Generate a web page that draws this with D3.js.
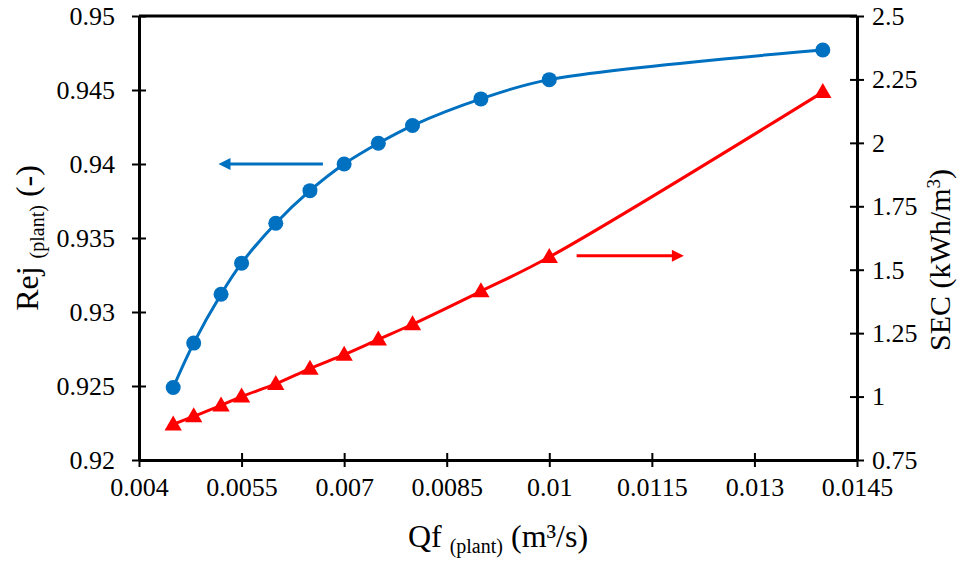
<!DOCTYPE html>
<html>
<head>
<meta charset="utf-8">
<script src="https://cdn.jsdelivr.net/npm/d3@7"></script>
<style>
  html, body { margin: 0; padding: 0; background: #fff; }
  svg { display: block; }
</style>
</head>
<body>
<svg id="chart" width="972" height="561"></svg>
<script>
// ---------- data ----------
const qf  = [0.0045, 0.0048, 0.0052, 0.0055, 0.0060, 0.0065, 0.0070, 0.0075, 0.0080, 0.0090, 0.0100, 0.0140];
const rej = [0.9249, 0.9279, 0.9312, 0.9333, 0.9360, 0.9382, 0.9400, 0.9414, 0.9426, 0.9444, 0.9457, 0.9477];
const sec = [0.89, 0.922, 0.965, 1.00, 1.05, 1.11, 1.165, 1.225, 1.285, 1.415, 1.55, 2.20];

const xTicks  = [0.004, 0.0055, 0.007, 0.0085, 0.01, 0.0115, 0.013, 0.0145];
const xLabels = ["0.004", "0.0055", "0.007", "0.0085", "0.01", "0.0115", "0.013", "0.0145"];
const yLTicks  = [0.92, 0.925, 0.93, 0.935, 0.94, 0.945, 0.95];
const yLLabels = ["0.92", "0.925", "0.93", "0.935", "0.94", "0.945", "0.95"];
const yRTicks  = [0.75, 1, 1.25, 1.5, 1.75, 2, 2.25, 2.5];
const yRLabels = ["0.75", "1", "1.25", "1.5", "1.75", "2", "2.25", "2.5"];

// annotation arrows (data units)
const arrowRej = { x0: 0.00669, x1: 0.00513, y: 0.94 };   // on left axis
const arrowSec = { x0: 0.0104,  x1: 0.0120,  y: 1.555 };  // on right axis

// ---------- layout ----------
const svg = d3.select("#chart");
const L = 139, R = 857, T = 16, B = 460;
const FONT = "Liberation Serif";
const BLUE = "#0070C0", RED = "#FF0000";

const x  = d3.scaleLinear().domain([0.004, 0.0145]).range([L, R]);
const yL = d3.scaleLinear().domain([0.92, 0.95]).range([B, T]);
const yR = d3.scaleLinear().domain([0.75, 2.5]).range([B, T]);

// arrow marker defs
const defs = svg.append("defs");
[["arrBlue", BLUE], ["arrRed", RED]].forEach(([id, c]) => {
  defs.append("marker").attr("id", id)
    .attr("viewBox", "0 0 10 10").attr("refX", 1).attr("refY", 5)
    .attr("markerUnits", "userSpaceOnUse")
    .attr("markerWidth", 15).attr("markerHeight", 12)
    .attr("orient", "auto")
    .append("path").attr("d", "M0,0 L10,5 L0,10 Z").attr("fill", c);
});

// top border
svg.append("line").attr("x1", L).attr("x2", R).attr("y1", T).attr("y2", T)
  .attr("stroke", "#000").attr("stroke-width", 3);

// axes
function styleAxis(g, orient) {
  g.attr("font-family", FONT).attr("font-size", 26);
  g.select(".domain").attr("stroke", "#000").attr("stroke-width", 3);
  g.selectAll(".tick line").attr("stroke", "#000").attr("stroke-width", 2);
  g.selectAll(".tick text").attr("font-family", FONT).attr("font-size", 26).attr("fill", "#000");
  if (orient === "left" || orient === "right") {
    g.selectAll(".tick line").attr("x1", -7).attr("x2", 7);
  } else {
    g.selectAll(".tick line").attr("y1", -7).attr("y2", 7);
  }
}

const gx = svg.append("g").attr("transform", `translate(0,${B})`)
  .call(d3.axisBottom(x).tickValues(xTicks).tickFormat((d, i) => xLabels[i]).tickSizeOuter(0).tickPadding(12));
styleAxis(gx, "bottom");
gx.selectAll(".tick text").attr("dy", "0.71em");

const gyl = svg.append("g").attr("transform", `translate(${L},0)`)
  .call(d3.axisLeft(yL).tickValues(yLTicks).tickFormat((d, i) => yLLabels[i]).tickSizeOuter(0).tickPadding(18));
styleAxis(gyl, "left");

const gyr = svg.append("g").attr("transform", `translate(${R},0)`)
  .call(d3.axisRight(yR).tickValues(yRTicks).tickFormat((d, i) => yRLabels[i]).tickSizeOuter(0).tickPadding(9));
styleAxis(gyr, "right");

// ---------- series ----------
const ptsRej = qf.map((q, i) => [x(q), yL(rej[i])]);
const ptsSec = qf.map((q, i) => [x(q), yR(sec[i])]);

svg.append("path").attr("d", d3.line().curve(d3.curveCatmullRom.alpha(0.5))(ptsSec))
  .attr("fill", "none").attr("stroke", RED).attr("stroke-width", 3);
svg.append("path").attr("d", d3.line().curve(d3.curveCatmullRom.alpha(0.5))(ptsRej))
  .attr("fill", "none").attr("stroke", BLUE).attr("stroke-width", 3);

svg.selectAll(".tri").data(ptsSec).enter().append("path")
  .attr("d", d3.symbol().type(d3.symbolTriangle).size(130))
  .attr("transform", d => `translate(${d[0]},${d[1] + 1})`)
  .attr("fill", RED);

svg.selectAll(".dot").data(ptsRej).enter().append("circle")
  .attr("cx", d => d[0]).attr("cy", d => d[1]).attr("r", 7.5)
  .attr("fill", BLUE);

// ---------- annotation arrows ----------
svg.append("line")
  .attr("x1", x(arrowRej.x0)).attr("x2", x(arrowRej.x1) + 13)
  .attr("y1", yL(arrowRej.y)).attr("y2", yL(arrowRej.y))
  .attr("stroke", BLUE).attr("stroke-width", 3).attr("marker-end", "url(#arrBlue)");
svg.append("line")
  .attr("x1", x(arrowSec.x0)).attr("x2", x(arrowSec.x1) - 13)
  .attr("y1", yR(arrowSec.y)).attr("y2", yR(arrowSec.y))
  .attr("stroke", RED).attr("stroke-width", 3).attr("marker-end", "url(#arrRed)");

// ---------- axis titles ----------
const xt = svg.append("text").attr("x", (L + R) / 2).attr("y", 547)
  .attr("text-anchor", "middle").attr("font-family", FONT).attr("font-size", 32).attr("fill", "#000");
xt.append("tspan").text("Qf ");
xt.append("tspan").attr("font-size", 20).attr("dy", 6).text("(plant)");
xt.append("tspan").attr("dy", -6).text(" (m³/s)");

const ylt = svg.append("text").attr("transform", `translate(38,${(T + B) / 2}) rotate(-90)`)
  .attr("text-anchor", "middle").attr("font-family", FONT).attr("font-size", 32).attr("fill", "#000");
ylt.append("tspan").text("Rej ");
ylt.append("tspan").attr("font-size", 20).attr("dy", 6).text("(plant)");
ylt.append("tspan").attr("dy", -6).text(" (-)");

const yrt = svg.append("text").attr("transform", `translate(950,${(T + B) / 2 + 22}) rotate(-90)`)
  .attr("text-anchor", "middle").attr("font-family", FONT).attr("font-size", 30).attr("fill", "#000");
yrt.append("tspan").text("SEC (kWh/m");
yrt.append("tspan").attr("font-size", 19).attr("dy", -10).text("3");
yrt.append("tspan").attr("dy", 10).text(")");
</script>
</body>
</html>
